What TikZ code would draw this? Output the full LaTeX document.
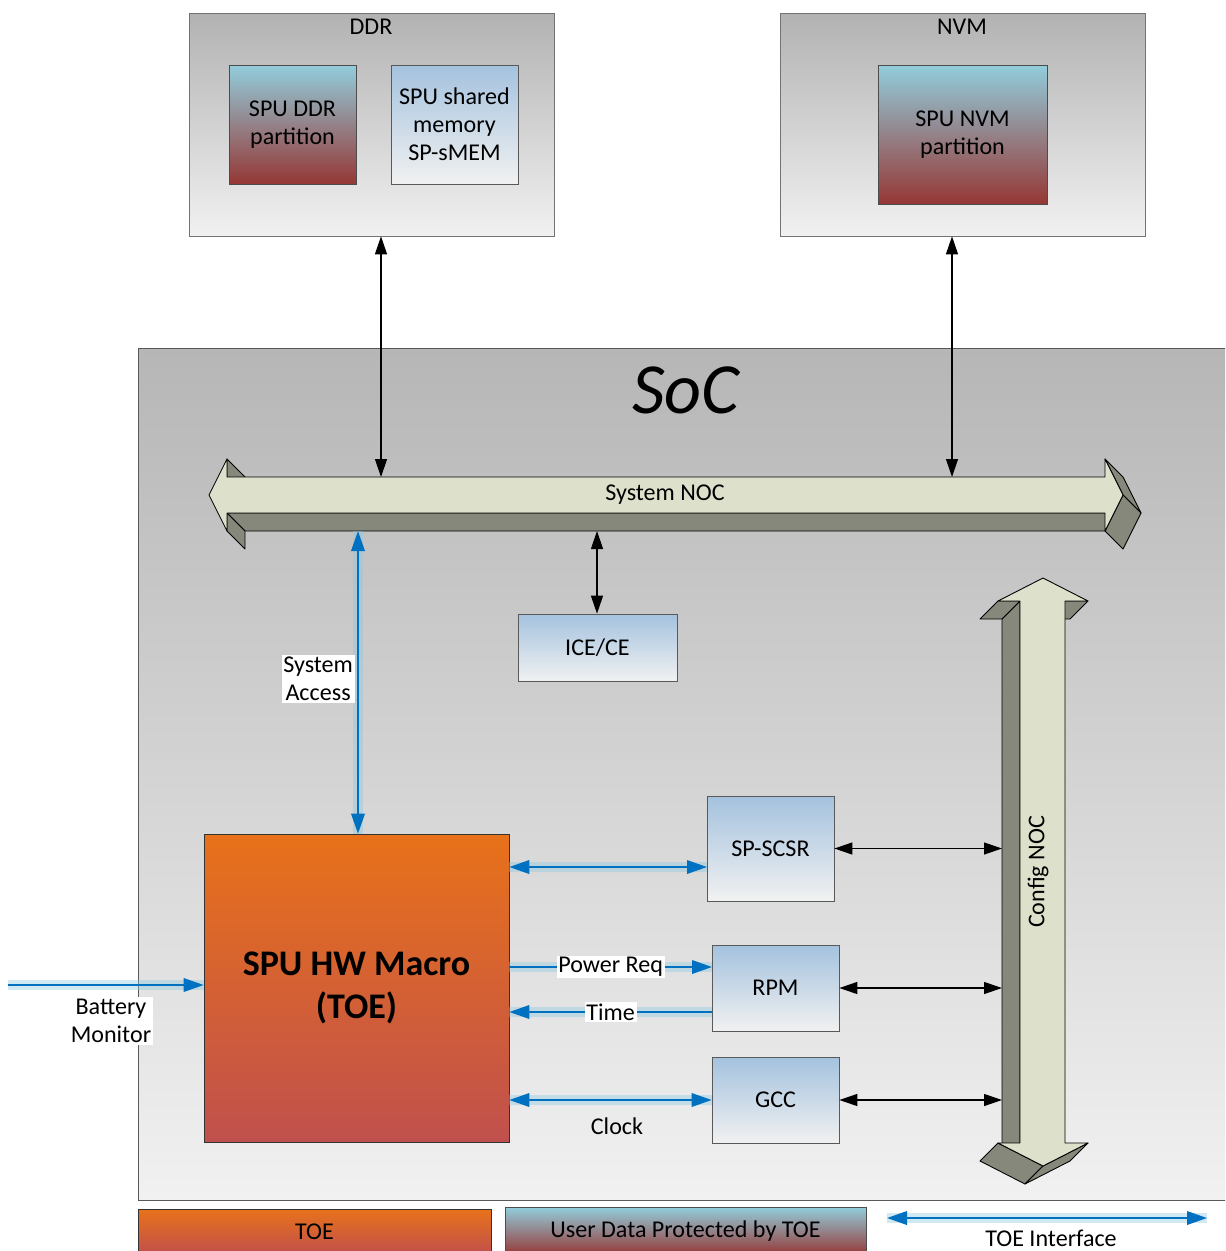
\documentclass[tikz,border=0pt]{standalone}
\usepackage{fontspec}
\setmainfont{Carlito}
\usetikzlibrary{arrows.meta}

\definecolor{memgray}{RGB}{178,178,178}
\definecolor{paleback}{RGB}{241,241,241}
\definecolor{socgray}{RGB}{182,182,182}
\definecolor{cellblue}{RGB}{164,194,222}
\definecolor{partcyan}{RGB}{146,205,220}
\definecolor{partred}{RGB}{149,55,53}
\definecolor{toeorange}{RGB}{232,113,26}
\definecolor{toered}{RGB}{192,80,77}
\definecolor{nocface}{RGB}{221,225,203}
\definecolor{nocside}{RGB}{133,136,123}
\definecolor{toeblue}{RGB}{0,112,192}
\definecolor{toeglow}{RGB}{140,200,225}

\tikzset{
  memory/.style={draw=gray!90!black, top color=memgray, bottom color=paleback, inner sep=0pt},
  partition/.style={draw=gray!60!black, top color=partcyan, bottom color=partred, align=center, inner sep=0pt},
  unit/.style={draw=gray!70!black, top color=cellblue, bottom color=paleback, align=center, inner sep=0pt},
  toebox/.style={draw=gray!40!black, top color=toeorange, bottom color=toered, align=center, inner sep=0pt},
  nocside/.style={fill=nocside, draw=black, line width=0.5pt, line join=round},
  nocface/.style={fill=nocface, draw=black, line width=0.5pt, line join=round},
  busarrow/.style={<->, >={Triangle[length=3.6mm,width=2.4mm]}, line width=0.7pt},
  toelink/.style={draw=toeblue, line width=1.1pt, >={Triangle[length=4mm,width=2.7mm]},
    preaction={draw=toeglow, line width=6pt, opacity=0.4, -}},
  tag/.style={fill=white, inner sep=1pt, align=center},
}

\begin{document}
\begin{tikzpicture}[x=0.02cm, y=-0.02cm, font=\fontsize{13.7}{16}\selectfont]
	\fill[white] (0,0) rectangle (1225,1251);
	\clip (0,0) rectangle (1225,1251);
	
	%% memories outside the SoC
	\node[memory, minimum width=7.3cm, minimum height=4.46cm] (ddr) at (371.5,124.5) {};
	\node (ddrlabel) at (371,27) {DDR};
	\node[partition, minimum width=2.54cm, minimum height=2.38cm] (ddrpart) at (292.5,124.5) {SPU DDR\\partition};
	\node[unit, minimum width=2.54cm, minimum height=2.38cm] (smem) at (454.5,124.5) {SPU shared\\memory\\SP-sMEM};
	
	\node[memory, minimum width=7.3cm, minimum height=4.46cm] (nvm) at (962.5,124.5) {};
	\node (nvmlabel) at (962,27) {NVM};
	\node[partition, minimum width=3.38cm, minimum height=2.78cm] (nvmpart) at (962.5,134.5) {SPU NVM\\partition};
	
	%% SoC
	\node[draw=gray!70!black, top color=socgray, bottom color=paleback, inner sep=0pt,
	      minimum width=22.24cm, minimum height=17.04cm] (soc) at (694,774) {};
	\node (soctitle) at (686,390) {\fontsize{41}{48}\selectfont\itshape SoC};
	
	%% System NOC (3d double arrow)
	\filldraw[nocside] (227,513) -- (1105,513) -- (1123,531) -- (245,531) -- cycle;
	\filldraw[nocside] (227,459) -- (245,477) -- (245,495) -- (227,477) -- cycle;
	\filldraw[nocside] (227,513) -- (245,531) -- (245,549) -- (227,531) -- cycle;
	\filldraw[nocside] (1105,459) -- (1123,477) -- (1141,513) -- (1123,495) -- cycle;
	\filldraw[nocside] (1123,495) -- (1141,513) -- (1123,549) -- (1105,531) -- cycle;
	\filldraw[nocface] (209,495) -- (227,459) -- (227,477) -- (1105,477) -- (1105,459) -- (1123,495)
	      -- (1105,531) -- (1105,513) -- (227,513) -- (227,531) -- cycle;
	\node (sysnoc) at (665,495) {System NOC};
	
	%% Config NOC (3d double arrow)
	\filldraw[nocside] (1020,601) -- (1020,1143) -- (1002,1161) -- (1002,619) -- cycle;
	\filldraw[nocside] (998,601) -- (1020,601) -- (1002,619) -- (980,619) -- cycle;
	\filldraw[nocside] (1065,601) -- (1088,601) -- (1070,619) -- (1047,619) -- cycle;
	\filldraw[nocside] (998,1143) -- (1043,1166) -- (1025,1184) -- (980,1161) -- cycle;
	\filldraw[nocside] (1043,1166) -- (1088,1143) -- (1070,1161) -- (1025,1184) -- cycle;
	\filldraw[nocface] (1043,578) -- (1088,601) -- (1065,601) -- (1065,1143) -- (1088,1143) -- (1043,1166)
	      -- (998,1143) -- (1020,1143) -- (1020,601) -- (998,601) -- cycle;
	\node[rotate=90] (cfgnoc) at (1038,872) {Config NOC};
	
	%% blocks inside the SoC
	\node[unit, minimum width=3.18cm, minimum height=1.34cm] (ice) at (597.5,647.5) {ICE/CE};
	\node[toebox, minimum width=6.1cm, minimum height=6.16cm, font=\fontsize{20.5}{24.4}\selectfont\bfseries]
	      (macro) at (356.5,988) {SPU HW Macro\\(TOE)};
	\node[unit, minimum width=2.54cm, minimum height=2.1cm] (scsr) at (770.5,848.5) {SP-SCSR};
	\node[unit, minimum width=2.54cm, minimum height=1.72cm] (rpm) at (775.5,988) {RPM};
	\node[unit, minimum width=2.54cm, minimum height=1.72cm] (gcc) at (775.5,1100) {GCC};
	
	%% ports on the NOCs
	\coordinate (ddrport) at (381,477);
	\coordinate (nvmport) at (952,477);
	\coordinate (iceport) at (597,531);
	\coordinate (sysport) at (358,531);
	\coordinate (cfgscsr) at (1002,848.5);
	\coordinate (cfgrpm) at (1002,988);
	\coordinate (cfggcc) at (1002,1100);
	
	%% black bus links
	\draw[busarrow] (ddrport |- ddr.south) -- (ddrport);
	\draw[busarrow] (nvmport |- nvm.south) -- (nvmport);
	\draw[busarrow] (iceport) -- (iceport |- ice.north);
	\draw[busarrow] (scsr.east) -- (cfgscsr);
	\draw[busarrow] (rpm.east) -- (cfgrpm);
	\draw[busarrow] (gcc.east) -- (cfggcc);
	
	%% TOE interfaces
	\coordinate (scsrin) at (707,867);
	\coordinate (rpmin) at (712,967);
	\coordinate (rpmout) at (712,1012);
	\coordinate (batt) at (8,985);
	\draw[toelink, <->] (sysport) -- (sysport |- macro.north);
	\node[tag, anchor=east] (sysacc) at (355,679) {System\\Access};
	\draw[toelink, <->] (macro.east |- scsrin) -- (scsrin);
	\draw[toelink, ->] (macro.east |- rpmin) -- node[tag] (powreq) {Power Req} (rpmin);
	\draw[toelink, ->] (rpmout) -- node[tag] (time) {Time} (macro.east |- rpmout);
	\draw[toelink, <->] (macro.east |- gcc.west) -- node[below=2.2mm, xshift=1.3mm] (clock) {Clock} (gcc.west);
	\draw[toelink, ->] (batt) -- (macro.west |- batt);
	\node[tag] (battmon) at (111,1021) {Battery\\Monitor};
	
	%% legend
	\node[toebox, minimum width=7.06cm, minimum height=0.92cm] (toekey) at (314.5,1232) {TOE};
	\node[partition, minimum width=7.22cm, minimum height=0.96cm] (userkey) at (685.5,1231) {User Data Protected by TOE};
	\coordinate (ifleft) at (887,1218);
	\coordinate (ifright) at (1207,1218);
	\draw[toelink, <->] (ifleft) -- (ifright);
	\node[tag] (ifkey) at (1051,1238) {TOE Interface};
\end{tikzpicture}
\end{document}
